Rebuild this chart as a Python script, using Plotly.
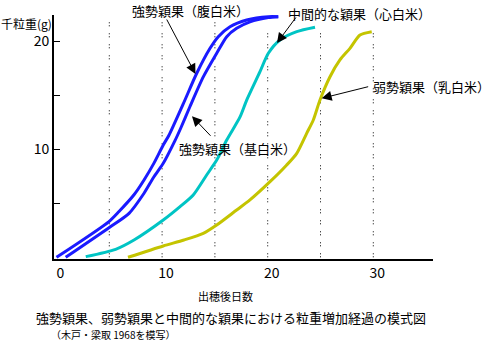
import plotly.graph_objects as go

# ---- data ----
days_upper = [0, 4.97, 5.92, 7.34, 8.29, 9.23, 10.11, 10.65, 12.0, 13.28, 14.54, 15.32, 16.43, 18.01, 20.06, 21.0]
wt_upper = [0, 3.31, 4.24, 5.79, 7.16, 8.72, 10.40, 11.3, 14.2, 17.04, 19.35, 20.43, 21.35, 21.97, 22.28, 22.28]

days_lower = [0.87, 4.97, 6.87, 8.29, 9.23, 10.11, 11.22, 11.76, 12.64, 13.9, 15.17, 16.12, 17.06, 18.32, 20.06, 21.0]
wt_lower = [0, 2.74, 4.07, 5.93, 7.46, 8.70, 10.8, 11.95, 13.96, 16.7, 18.89, 20.43, 21.2, 21.8, 22.2, 22.28]

days_mid = [2.77, 5.6, 7.34, 10.11, 11.7, 12.95, 14.22, 15.17, 16.12, 17.38, 18.01, 19.27, 20.06, 21.16, 22.75, 24.48]
wt_mid = [0.06, 0.74, 1.6, 3.45, 4.69, 5.77, 7.62, 9.0, 10.86, 13.0, 14.56, 17.19, 18.89, 20.12, 20.89, 21.3]

days_weak = [6.77, 10.11, 12.07, 13.9, 15.17, 17.06, 18.32, 20.22, 21.8, 22.75, 23.69, 24.32, 24.95, 25.9, 26.84, 27.79, 28.74, 29.85]
wt_weak = [0, 1.05, 1.6, 2.22, 2.99, 4.38, 5.31, 7.0, 8.55, 9.63, 11.48, 12.71, 14.56, 16.72, 18.27, 19.35, 20.58, 20.89]

grid_days_a = [5, 10, 15]
grid_days_b = [20, 25, 30]

x_tickvals = [0, 10, 20, 30]
y_tickvals = [5, 10, 15, 20]
y_ticktext = ["", "10", "", "20"]

FONT = "Noto Sans CJK JP"

fig = go.Figure()
for xs, ys, col in [(days_upper, wt_upper, "#1a1aff"),
                    (days_lower, wt_lower, "#1a1aff"),
                    (days_mid, wt_mid, "#00c4c4"),
                    (days_weak, wt_weak, "#c4c400")]:
    fig.add_trace(go.Scatter(x=xs, y=ys, mode="lines",
                             line=dict(color=col, width=3, shape="spline", smoothing=0.7)))

for d in grid_days_a:
    fig.add_shape(type="line", xref="x", yref="y", x0=d, x1=d, y0=0, y1=22.25,
                  line=dict(color="black", width=1, dash="1px,2px,1px,7px"), layer="below")
for d in grid_days_b:
    fig.add_shape(type="line", xref="x", yref="y", x0=d, x1=d, y0=0, y1=21.2,
                  line=dict(color="black", width=1, dash="1px,2px,1px,7px"), layer="below")

# arrows
arrows = [
    (13.16, 16.97, -29.5, -56),
    (12.83, 13.06, 20, 21),
    (20.88, 19.84, 20, -27),
    (25.11, 14.72, 48, -12),
]
for x, y, ax, ay in arrows:
    fig.add_annotation(x=x, y=y, xref="x", yref="y", ax=ax, ay=ay,
                       axref="pixel", ayref="pixel", text="", showarrow=True,
                       arrowhead=2, arrowsize=2, arrowwidth=1, arrowcolor="black")

# labels (pixel -> paper)
L, R, T, B = 54, 433, 15, 259
def px(xp):
    return (xp - L) / (R - L)
def py(yp):
    return (B - yp) / (B - T)

labels = [
    ("強勢穎果（腹白米）", 190, 0, 13, "center", "top"),
    ("中間的な穎果（心白米）", 359, 13, 13, "center", "middle"),
    ("弱勢穎果（乳白米）", 431, 86, 13, "center", "middle"),
    ("強勢穎果（基白米）", 237, 148, 13, "center", "middle"),
    ("千粒重(g)", 0, 23, 12, "left", "middle"),
    ("出穂後日数", 225, 296, 11, "center", "middle"),
]
for t, xp, yp, s, xa, ya in labels:
    fig.add_annotation(x=px(xp), y=py(yp), xref="paper", yref="paper", text=t,
                       showarrow=False, xanchor=xa, yanchor=ya, borderpad=0,
                       font=dict(family=FONT, size=s, color="black"))

caption = ("<span style='font-size:13px'>強勢穎果、弱勢穎果と中間的な穎果における粒重増加経過の模式図</span><br>"
           "<span style='font-size:10px'>　　（木戸・梁取 1968を模写）</span>")
fig.add_annotation(x=px(35), y=py(343), xref="paper", yref="paper", text=caption,
                   showarrow=False, xanchor="left", yanchor="bottom", align="left",
                   borderpad=0, font=dict(family=FONT, size=12, color="black"))

x_lo = (L - 56.5) / 10.56
x_hi = (R - 56.5) / 10.56
y_lo = (257.3 - B) / 10.8
y_hi = (257.3 - T) / 10.8

fig.update_layout(
    width=489, height=343,
    margin=dict(l=L, r=489 - R, t=T, b=343 - B),
    paper_bgcolor="white", plot_bgcolor="white",
    showlegend=False,
    font=dict(family=FONT, size=14, color="black"),
    xaxis=dict(range=[x_lo, x_hi], showgrid=False, zeroline=False,
               showline=True, linecolor="black", linewidth=2,
               tickvals=x_tickvals, ticks="", ticklabelshift=4,
               tickfont=dict(family=FONT, size=14)),
    yaxis=dict(range=[y_lo, y_hi], showgrid=False, zeroline=False,
               showline=True, linecolor="black", linewidth=2,
               tickvals=y_tickvals, ticktext=y_ticktext, ticks="inside",
               ticklen=6, tickcolor="black", tickwidth=1,
               tickfont=dict(family=FONT, size=14)),
)

fig.write_html("out.html")
